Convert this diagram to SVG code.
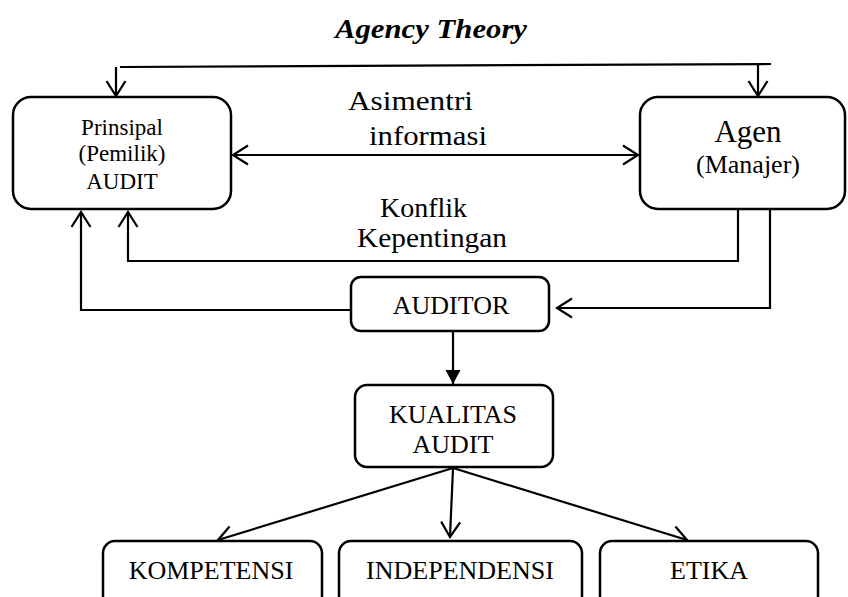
<svg xmlns="http://www.w3.org/2000/svg" width="848" height="597" viewBox="0 0 848 597" font-family="'Liberation Serif', 'Times New Roman', Tinos, 'DejaVu Serif', serif">
<style>
.box{fill:#fff;stroke:#000;stroke-width:2.5}
.ln{fill:none;stroke:#000;stroke-width:2.2}
text{font-family:'Liberation Serif','Times New Roman',Tinos,'DejaVu Serif',serif;fill:#000}
.c{text-anchor:middle}
</style>
<defs>
<marker id="open" viewBox="-18 -12 20 24" refX="0" refY="0" markerWidth="20" markerHeight="24" markerUnits="userSpaceOnUse" orient="auto-start-reverse">
<path d="M-15,-9.5 L0,0 L-15,9.5" fill="none" stroke="#000" stroke-width="2.2"/>
</marker>
<marker id="solid" viewBox="-16 -9 17 18" refX="0" refY="0" markerWidth="17" markerHeight="18" markerUnits="userSpaceOnUse" orient="auto">
<path d="M-14,-7.5 L0,0 L-14,7.5 Z" fill="#000"/>
</marker>
</defs>
<rect width="848" height="597" fill="#fff"/>
<text x="335" y="38" font-size="28" font-weight="bold" font-style="italic" textLength="192" lengthAdjust="spacingAndGlyphs">Agency Theory</text>
<g id="connectors">
<path class="ln" d="M120,67 L771,64"/>
<path class="ln" d="M116,67 L116,96" marker-end="url(#open)"/>
<path class="ln" d="M758,64 L758,96" marker-end="url(#open)"/>
<path class="ln" d="M233,155 L638,155" marker-start="url(#open)" marker-end="url(#open)"/>
<path class="ln" d="M738,210 L738,261 L128,261 L128,212" marker-end="url(#open)"/>
<path class="ln" d="M351,310 L81,310 L81,212" marker-end="url(#open)"/>
<path class="ln" d="M770,210 L770,308 L557,308" marker-end="url(#open)"/>
<path class="ln" d="M453,331 L453,384" marker-end="url(#solid)"/>
<path class="ln" d="M453,468 L218,540" marker-end="url(#open)"/>
<path class="ln" d="M453,468 L450,537" marker-end="url(#open)"/>
<path class="ln" d="M453,468 L687,540" marker-end="url(#open)"/>
<text x="348" y="110" font-size="28" textLength="125" lengthAdjust="spacingAndGlyphs">Asimentri</text>
<text x="369" y="145" font-size="28" textLength="118" lengthAdjust="spacingAndGlyphs">informasi</text>
<text x="380" y="217" font-size="27" textLength="87" lengthAdjust="spacingAndGlyphs">Konflik</text>
<text x="357" y="247" font-size="27" textLength="150" lengthAdjust="spacingAndGlyphs">Kepentingan</text>
</g>
<g id="prinsipal">
<rect class="box" x="13" y="97" width="218" height="112" rx="18"/>
<text class="c" x="122" y="135" font-size="23">Prinsipal</text>
<text class="c" x="122" y="161" font-size="23">(Pemilik)</text>
<text class="c" x="122" y="189" font-size="23">AUDIT</text>
</g>
<g id="agen">
<rect class="box" x="640" y="97" width="205" height="112" rx="18"/>
<text class="c" x="748" y="142" font-size="31">Agen</text>
<text class="c" x="748" y="173" font-size="26">(Manajer)</text>
</g>
<g id="auditor">
<rect class="box" x="351" y="277" width="198" height="54" rx="10"/>
<text class="c" x="451" y="314" font-size="26">AUDITOR</text>
</g>
<g id="kualitas">
<rect class="box" x="355" y="385" width="198" height="82" rx="12"/>
<text class="c" x="453" y="423" font-size="26">KUALITAS</text>
<text class="c" x="453" y="453" font-size="26">AUDIT</text>
</g>
<g id="kompetensi">
<rect class="box" x="103" y="541" width="219" height="80" rx="12"/>
<text class="c" x="211" y="579" font-size="26">KOMPETENSI</text>
</g>
<g id="independensi">
<rect class="box" x="339" y="541" width="243" height="80" rx="12"/>
<text class="c" x="460" y="579" font-size="26">INDEPENDENSI</text>
</g>
<g id="etika">
<rect class="box" x="600" y="541" width="218" height="80" rx="12"/>
<text class="c" x="709" y="579" font-size="26">ETIKA</text>
</g>
</svg>
